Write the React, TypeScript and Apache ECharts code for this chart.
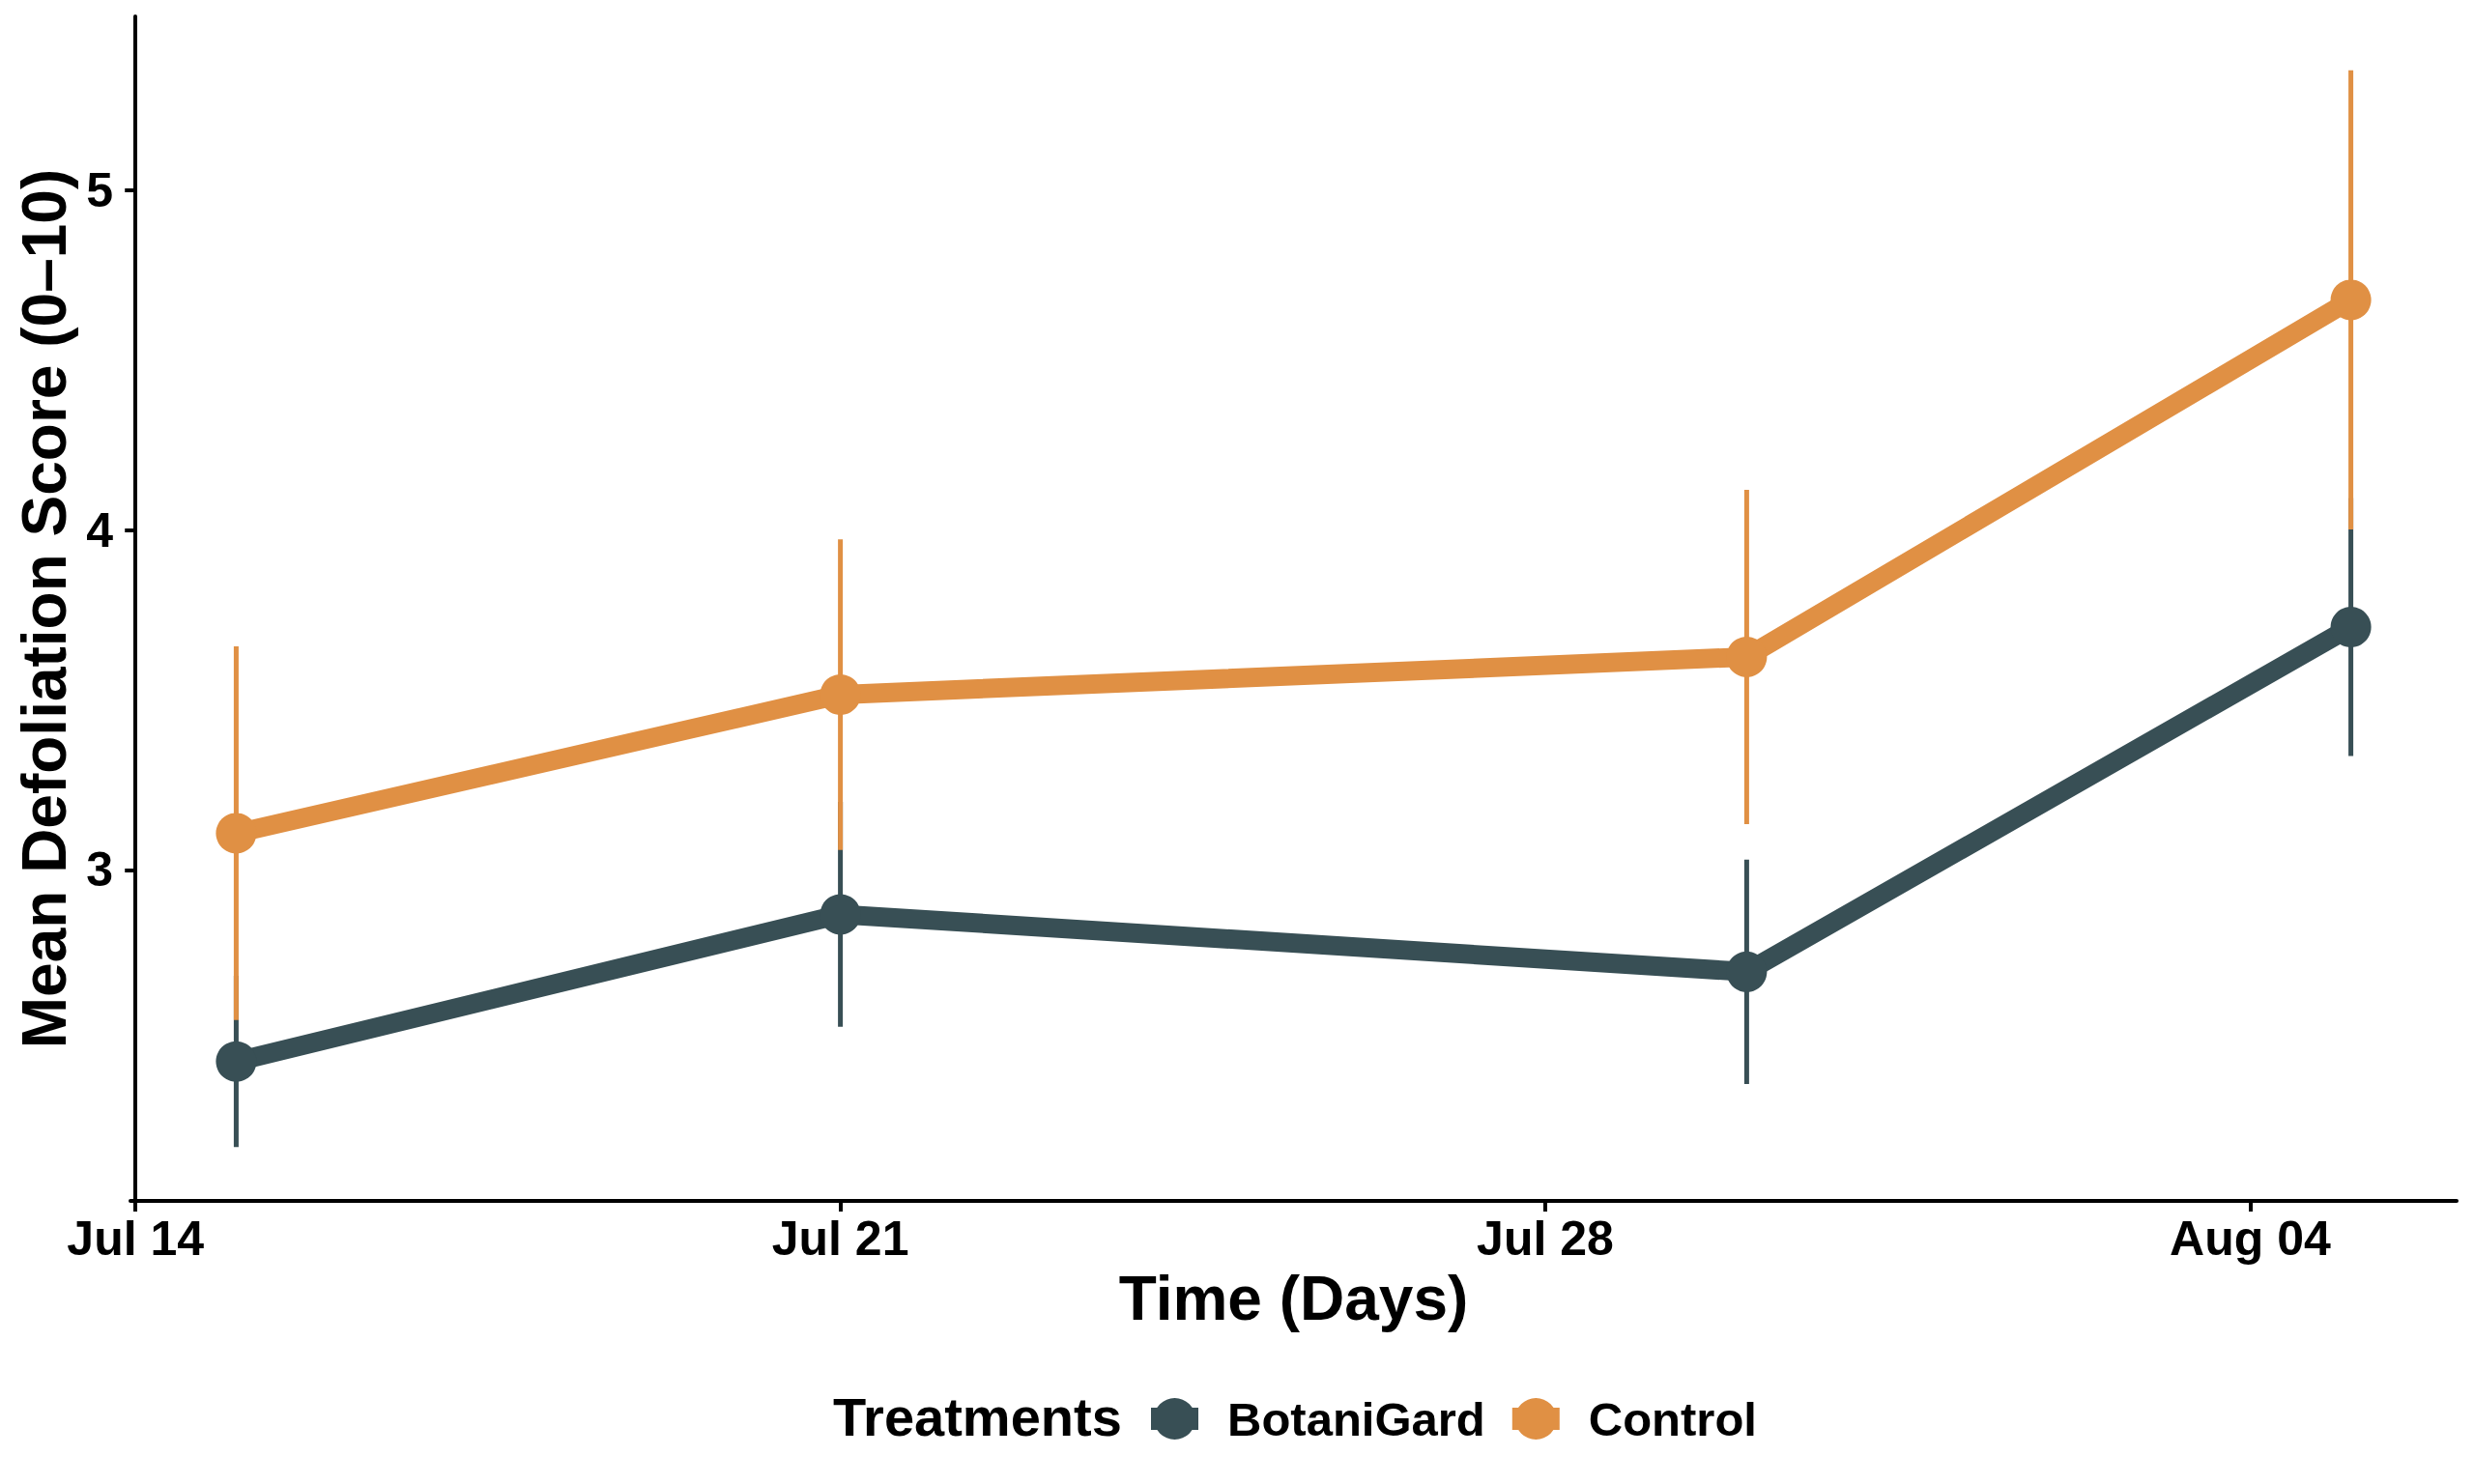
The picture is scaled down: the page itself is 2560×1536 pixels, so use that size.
import React, { useEffect, useRef } from "react";
import * as echarts from "echarts";

// ---- data ----
const baseDate = "2023-07-14";
const sampleDates = ["2023-07-15", "2023-07-21", "2023-07-30", "2023-08-05"];
const tickDates = ["2023-07-14", "2023-07-21", "2023-07-28", "2023-08-04"];
const tickLabels = ["Jul 14", "Jul 21", "Jul 28", "Aug 04"];
const yTicks = [3, 4, 5];

const botaniMean = [2.436, 2.869, 2.7, 3.715];
const botaniSE = [0.252, 0.331, 0.33, 0.38];
const controlMean = [3.108, 3.516, 3.627, 4.678];
const controlSE = [0.55, 0.457, 0.492, 0.676];

const seriesNames = ["BotaniGard", "Control"];
const seriesColors = ["#384F55", "#E09044"];

const DAY = 86400000;
const dayOf = (d: string) => Math.round((Date.parse(d) - Date.parse(baseDate)) / DAY);

const FONT = "'Liberation Sans', Arial, Helvetica, sans-serif";

export default function App() {
  const ref = useRef<HTMLDivElement>(null);

  useEffect(() => {
    document.body.style.margin = "0";
    const chart = echarts.init(ref.current!, undefined, { renderer: "svg" });

    const xs = sampleDates.map(dayOf);
    const tickXs = tickDates.map(dayOf);
    const labelFor: Record<number, string> = {};
    tickXs.forEach((t, i) => (labelFor[t] = tickLabels[i]));

    const means = [botaniMean, controlMean];
    const ses = [botaniSE, controlSE];

    // ggplot-like 5% expansion
    const xMinD = Math.min(...xs), xMaxD = Math.max(...xs);
    const xPad = (xMaxD - xMinD) * 0.05;
    const allLo: number[] = [], allHi: number[] = [];
    means.forEach((m, s) => m.forEach((v, i) => { allLo.push(v - ses[s][i]); allHi.push(v + ses[s][i]); }));
    const yLoD = Math.min(...allLo), yHiD = Math.max(...allHi);
    const yPad = (yHiD - yLoD) * 0.05;

    const errorSeries = seriesNames.map((name, s) => ({
      type: "custom",
      name: name + " SE",
      z: 2,
      silent: true,
      data: xs.map((x, i) => [x, means[s][i] - ses[s][i], means[s][i] + ses[s][i]]),
      encode: { x: 0, y: [1, 2] },
      renderItem: (params: any, api: any) => {
        const x = api.value(0);
        const p1 = api.coord([x, api.value(1)]);
        const p2 = api.coord([x, api.value(2)]);
        return {
          type: "line",
          shape: { x1: p1[0], y1: p1[1], x2: p2[0], y2: p2[1] },
          style: { stroke: seriesColors[s], lineWidth: 5 },
        };
      },
    }));

    const lineSeries = seriesNames.map((name, s) => ({
      type: "line",
      name,
      z: 3,
      data: xs.map((x, i) => [x, means[s][i]]),
      symbol: "circle",
      symbolSize: 42,
      showSymbol: true,
      lineStyle: { width: 20, color: seriesColors[s], cap: "round" },
      itemStyle: { color: seriesColors[s], opacity: 1 },
      emphasis: { disabled: true },
    }));

    const axisTextBase = { color: "#000", fontFamily: FONT, fontWeight: "bold" };

    chart.setOption({
      animation: false,
      backgroundColor: "#fff",
      grid: { left: 135, right: 18, top: 17, bottom: 293 },
      xAxis: {
        type: "value",
        min: xMinD - xPad,
        max: xMaxD + xPad,
        name: "Time (Days)",
        nameLocation: "middle",
        nameGap: 62,
        nameTextStyle: { ...axisTextBase, fontSize: 64 },
        axisLine: { show: true, lineStyle: { color: "#000", width: 4 } },
        axisTick: { show: true, length: 11, lineStyle: { color: "#000", width: 4 }, customValues: tickXs },
        axisLabel: {
          ...axisTextBase,
          fontSize: 50,
          margin: 14,
          customValues: tickXs,
          formatter: (v: number) => labelFor[Math.round(v)] ?? "",
        },
        splitLine: { show: false },
      },
      yAxis: {
        type: "value",
        min: yLoD - yPad,
        max: yHiD + yPad,
        name: "Mean Defoliation Score (0\u201310)",
        nameLocation: "middle",
        nameGap: 50,
        nameTextStyle: { ...axisTextBase, fontSize: 64 },
        axisLine: { show: true, lineStyle: { color: "#000", width: 4 } },
        axisTick: { show: true, length: 11, lineStyle: { color: "#000", width: 4 }, customValues: yTicks },
        axisLabel: { ...axisTextBase, fontSize: 50, margin: 18, customValues: yTicks },
        splitLine: { show: false },
      },
      legend: {
        data: seriesNames,
        left: 1191,
        top: 1444,
        padding: 0,
        orient: "horizontal",
        itemWidth: 49,
        itemHeight: 43,
        itemGap: 28,
        selectedMode: false,
        icon: "path://M0,10 L49,10 L49,33 L0,33 Z M24.5,0 A21.5,21.5 0 1,1 24.5,43 A21.5,21.5 0 1,1 24.5,0 Z",
        textStyle: { ...axisTextBase, fontSize: 49, padding: [0, 0, 0, 25] },
      },
      graphic: [
        {
          type: "text",
          left: 862,
          top: 1438,
          style: {
            text: "Treatments",
            fill: "#000",
            font: `bold 56px ${FONT}`,
          },
        },
      ],
      series: [...errorSeries, ...lineSeries],
    });

    return () => chart.dispose();
  }, []);

  return <div ref={ref} style={{ position: "absolute", left: 0, top: 0, width: 2560, height: 1536 }} />;
}
